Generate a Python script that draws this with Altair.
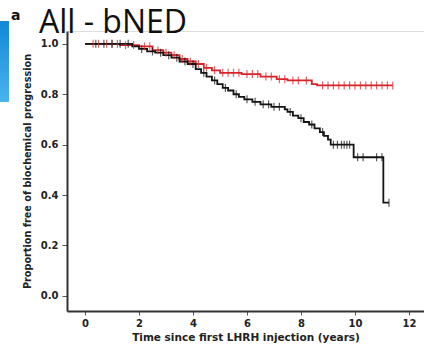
import altair as alt
import pandas as pd
import numpy as np

# Kaplan-Meier step values
black_t = [0, 1.75, 2.0, 2.3, 2.6, 2.9, 3.2, 3.5, 3.8, 4.1, 4.3, 4.5, 4.7, 4.9, 5.1, 5.3, 5.5, 5.7,
           5.9, 6.2, 6.5, 6.9, 7.4, 7.5, 7.7, 7.9, 8.1, 8.3, 8.5, 8.7, 8.85, 9.0, 9.1, 9.95, 11.05, 11.26]
black_s = [1.0, 0.99, 0.98, 0.97, 0.965, 0.955, 0.945, 0.93, 0.92, 0.90, 0.885, 0.87, 0.855, 0.84,
           0.825, 0.815, 0.80, 0.79, 0.78, 0.77, 0.76, 0.75, 0.74, 0.73, 0.715, 0.705, 0.69, 0.68,
           0.665, 0.65, 0.635, 0.62, 0.60, 0.55, 0.37, 0.37]
black_cens = [0.4, 0.7, 1.0, 1.3, 1.6, 2.1, 2.5, 2.8, 3.1, 3.4, 3.7, 4.0, 4.4, 4.8, 5.2, 5.6, 6.0,
              6.3, 6.6, 6.8, 7.0, 7.2, 7.6, 8.0, 8.4, 8.8, 9.2, 9.35, 9.5, 9.6, 9.7, 9.8, 10.1,
              10.3, 10.8, 11.0, 11.26]

red_t = [0, 1.3, 2.0, 2.5, 2.9, 3.2, 3.5, 3.8, 4.1, 4.4, 4.7, 5.0, 5.8, 6.5, 7.1, 7.5, 8.4, 8.6, 11.4]
red_s = [1.0, 0.995, 0.99, 0.975, 0.965, 0.955, 0.94, 0.93, 0.92, 0.905, 0.895, 0.885, 0.88, 0.87,
         0.86, 0.855, 0.84, 0.835, 0.835]
red_cens = [0.3, 0.5, 0.8, 1.0, 1.2, 1.5, 1.8, 2.2, 2.4, 2.7, 3.0, 3.3, 3.6, 3.9, 4.2, 4.5, 4.8,
            5.1, 5.3, 5.5, 5.7, 6.0, 6.2, 6.4, 6.7, 6.9, 7.2, 7.4, 7.7, 7.9, 8.2, 8.8, 9.0, 9.2,
            9.4, 9.6, 9.8, 10.0, 10.2, 10.4, 10.6, 10.8, 11.0, 11.2, 11.4]

x_ticks = list(range(0, 13))
y_ticks = [round(v * 0.1, 1) for v in range(0, 11)]
title_text = "All - bNED"
panel_letter = "a"


def lookup(ts, ss, c):
    i = np.searchsorted(np.array(ts), c, side="right") - 1
    return ss[i]


line_df = pd.concat([
    pd.DataFrame({"t": red_t, "s": red_s, "g": "red"}),
    pd.DataFrame({"t": black_t, "s": black_s, "g": "black"}),
])
cens_df = pd.concat([
    pd.DataFrame({"t": red_cens, "s": [lookup(red_t, red_s, c) for c in red_cens], "g": "red"}),
    pd.DataFrame({"t": black_cens, "s": [lookup(black_t, black_s, c) for c in black_cens], "g": "black"}),
])

color_scale = alt.Scale(domain=["red", "black"], range=["#d8232a", "#141414"])
FONT = "DejaVu Sans"

xax = alt.Axis(values=x_ticks, labelExpr="datum.value % 2 == 0 ? datum.label : ''",
               title="Time since first LHRH injection (years)", grid=False,
               domainColor="#333", domainWidth=2, tickColor="#555", tickSize=4, tickWidth=1,
               labelFont=FONT, labelFontWeight="bold", labelFontSize=10, labelColor="#222",
               labelPadding=3, titleFont=FONT, titleFontWeight="bold", titleFontSize=10.5,
               titleColor="#222", titlePadding=4)
yax = alt.Axis(values=y_ticks, format=".1f",
               labelExpr="(round(datum.value*10) % 2 == 0) ? datum.label : ''",
               title="Proportion free of biochemical progression", grid=False,
               domainColor="#333", domainWidth=2, tickColor="#555", tickSize=5, tickWidth=1,
               labelFont=FONT, labelFontWeight="bold", labelFontSize=10, labelColor="#222",
               labelPadding=4, titleFont=FONT, titleFontWeight="bold", titleFontSize=9.7,
               titleColor="#222", titlePadding=8)

x = alt.X("t:Q", scale=alt.Scale(domain=[-0.667, 12.556], nice=False, zero=False), axis=xax)
y = alt.Y("s:Q", scale=alt.Scale(domain=[-0.06, 1.051], nice=False, zero=False), axis=yax)

lines = alt.Chart(line_df).mark_line(interpolate="step-after", strokeWidth=1.8).encode(
    x=x, y=y, color=alt.Color("g:N", scale=color_scale, legend=None), detail="g:N")
cens = alt.Chart(cens_df).mark_tick(orient="vertical", size=8, thickness=1.2).encode(
    x="t:Q", y="s:Q", color=alt.Color("g:N", scale=color_scale, legend=None))

blue = alt.Chart(pd.DataFrame({"k": [0]})).mark_rect(
    color=alt.LinearGradient(gradient="linear", x1=0, y1=0, x2=0, y2=1,
                             stops=[alt.GradientStop(color="#1088d6", offset=0),
                                    alt.GradientStop(color="#4ab4ee", offset=1)])
).encode(x=alt.value(-67), x2=alt.value(-58), y=alt.value(-10), y2=alt.value(71))

letter = alt.Chart(pd.DataFrame({"k": [panel_letter]})).mark_text(
    font=FONT, fontWeight="bold", fontSize=14, align="left", baseline="alphabetic", color="#111"
).encode(text="k:N", x=alt.value(-56), y=alt.value(-11))

title = alt.Chart(pd.DataFrame({"k": [title_text]})).mark_text(
    font="Open Sans", fontSize=32, align="left", baseline="alphabetic", color="#111"
).encode(text="k:N", x=alt.value(-28), y=alt.value(2))

chart = alt.layer(blue, letter, lines, cens, title).properties(
    width=357, height=280,
    autosize=alt.AutoSizeParams(type="none"),
    padding={"left": 67, "top": 31, "right": 0, "bottom": 44},
).configure_view(stroke=None).configure(background="white")

chart.save("out.html", embed_options={"renderer": "svg", "actions": False})
